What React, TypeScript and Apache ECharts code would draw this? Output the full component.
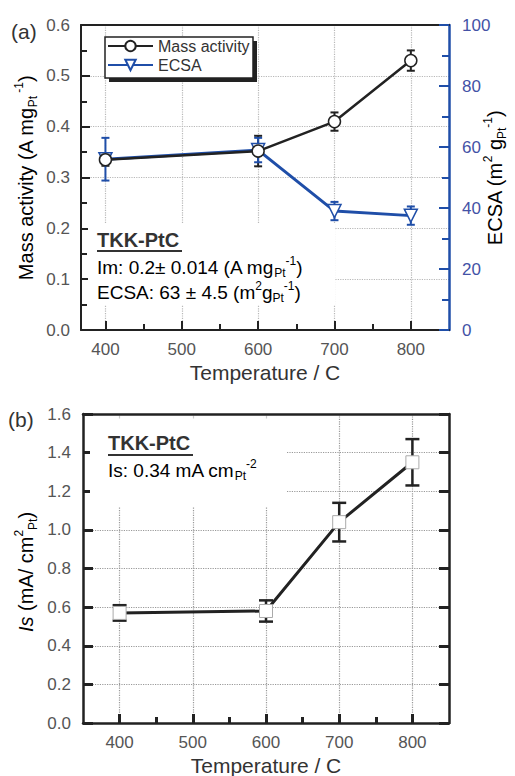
import React, { useEffect, useRef } from "react";
import * as echarts from "echarts";

const FONT = "Liberation Sans, Arial, sans-serif";
const BLUE = "#1f4ea8";
const BLUE_TEXT = "#4352a6";

// ---- data (a) ----
const temps = [400, 600, 700, 800];
const massActivity = [0.335, 0.352, 0.41, 0.53];
const massActivityErr = [0.012, 0.03, 0.018, 0.02];
const ecsa = [56, 59, 39, 37.5];
const ecsaErr = [7, 4, 3, 3];

// ---- data (b) ----
const isValues = [0.57, 0.58, 1.04, 1.35];
const isErr = [0.04, 0.055, 0.1, 0.12];

// ---- ticks ----
const xMajorTicks = [400, 500, 600, 700, 800];
const xMinorTicks = [450, 550, 650, 750];

function errorBars(
  name: string,
  xs: number[],
  ys: number[],
  errs: number[],
  color: string,
  capHalf: number,
  width: number,
  xAxisIndex: number,
  yAxisIndex: number
) {
  return {
    type: "custom",
    name,
    xAxisIndex,
    yAxisIndex,
    silent: true,
    z: 1,
    encode: { x: 0, y: [1, 2] },
    data: xs.map((x, i) => [x, ys[i] - errs[i], ys[i] + errs[i]]),
    renderItem: (params: any, api: any) => {
      const x = api.value(0);
      const lo = api.coord([x, api.value(1)]);
      const hi = api.coord([x, api.value(2)]);
      const style = { stroke: color, lineWidth: width };
      return {
        type: "group",
        children: [
          { type: "line", shape: { x1: lo[0], y1: lo[1], x2: hi[0], y2: hi[1] }, style },
          { type: "line", shape: { x1: lo[0] - capHalf, y1: lo[1], x2: lo[0] + capHalf, y2: lo[1] }, style },
          { type: "line", shape: { x1: hi[0] - capHalf, y1: hi[1], x2: hi[0] + capHalf, y2: hi[1] }, style },
        ],
      };
    },
  };
}

function mainX(gridIndex: number, min: number, max: number, lineW: number, tickW: number, gridColor: string) {
  return {
    type: "value",
    gridIndex,
    min,
    max,
    position: "bottom",
    axisLine: { show: true, onZero: false, lineStyle: { color: "#222", width: lineW } },
    axisTick: { show: true, inside: true, length: 9, customValues: xMajorTicks, lineStyle: { color: "#222", width: tickW } },
    axisLabel: {
      show: true,
      customValues: xMajorTicks,
      margin: 11,
      color: "#555",
      fontSize: 17,
      fontFamily: FONT,
    },
    splitLine: { show: true, lineStyle: { color: gridColor, type: "dotted", width: 1.2 } },
  };
}

function minorX(gridIndex: number, min: number, max: number, tickW: number) {
  return {
    type: "value",
    gridIndex,
    min,
    max,
    position: "bottom",
    axisLine: { show: false },
    axisTick: { show: true, inside: true, length: 6, customValues: xMinorTicks, lineStyle: { color: "#222", width: tickW } },
    axisLabel: { show: false },
    splitLine: { show: false },
  };
}

function topX(gridIndex: number, min: number, max: number, lineW: number) {
  return {
    type: "value",
    gridIndex,
    min,
    max,
    position: "top",
    axisLine: { show: true, onZero: false, lineStyle: { color: "#222", width: lineW } },
    axisTick: { show: false },
    axisLabel: { show: false },
    splitLine: { show: false },
  };
}

const richBase = (color: string, size: number, lh: number) => ({
  a: { fontSize: size, fontFamily: FONT, color, lineHeight: lh },
  sub: { fontSize: Math.round(size * 0.62), fontFamily: FONT, color, lineHeight: 13, verticalAlign: "bottom" },
  sup: { fontSize: Math.round(size * 0.62), fontFamily: FONT, color, lineHeight: 13, verticalAlign: "top" },
  i: { fontSize: size, fontFamily: FONT, color, lineHeight: lh, fontStyle: "italic" },
});

export default function App() {
  const ref = useRef<HTMLDivElement>(null);

  useEffect(() => {
    document.body.style.margin = "0";
    if (!ref.current) return;
    const chart = echarts.init(ref.current, undefined, { renderer: "svg" });

    const option: any = {
      animation: false,
      backgroundColor: "#fff",
      grid: [
        { left: 81, top: 25, width: 368, height: 305 },
        { left: 83, top: 414, width: 366, height: 309 },
      ],
      legend: {
        data: ["Mass activity", "ECSA"],
        orient: "vertical",
        left: 107,
        top: 38,
        itemWidth: 45,
        itemHeight: 13,
        itemGap: 3,
        padding: 0,
        z: 5,
        textStyle: { fontSize: 16, fontFamily: FONT, color: "#333" },
      },
      xAxis: [
        mainX(0, 368, 850, 2, 2, "#b8b8b8"),
        minorX(0, 368, 850, 2),
        topX(0, 368, 850, 2),
        mainX(1, 350, 850, 2.5, 3, "#999"),
        minorX(1, 350, 850, 3),
        topX(1, 350, 850, 2.5),
      ],
      yAxis: [
        {
          type: "value",
          gridIndex: 0,
          min: 0,
          max: 0.6,
          interval: 0.1,
          position: "left",
          axisLine: { show: true, lineStyle: { color: "#222", width: 2 } },
          axisTick: { show: true, inside: true, length: 9, lineStyle: { color: "#222", width: 2 } },
          minorTick: { show: true, splitNumber: 2, length: 6, lineStyle: { color: "#222", width: 2 } },
          axisLabel: {
            margin: 11,
            color: "#555",
            fontSize: 17,
            fontFamily: FONT,
            formatter: (v: number) => v.toFixed(1),
          },
          splitLine: { show: true, lineStyle: { color: "#b8b8b8", type: "dotted", width: 1.2 } },
        },
        {
          type: "value",
          gridIndex: 0,
          min: 0,
          max: 100,
          interval: 20,
          position: "right",
          axisLine: { show: true, lineStyle: { color: BLUE, width: 2.5 } },
          axisTick: { show: true, inside: true, length: 10, lineStyle: { color: BLUE, width: 2 } },
          minorTick: { show: true, splitNumber: 2, length: 7, lineStyle: { color: BLUE, width: 2 } },
          axisLabel: { margin: 13, color: BLUE_TEXT, fontSize: 17, fontFamily: FONT },
          splitLine: { show: false },
        },
        {
          type: "value",
          gridIndex: 1,
          min: 0,
          max: 1.6,
          interval: 0.2,
          position: "left",
          axisLine: { show: true, lineStyle: { color: "#222", width: 2.5 } },
          axisTick: { show: true, inside: true, length: 10, lineStyle: { color: "#222", width: 3 } },
          axisLabel: {
            margin: 12,
            color: "#555",
            fontSize: 17,
            fontFamily: FONT,
            formatter: (v: number) => v.toFixed(1),
          },
          splitLine: { show: true, lineStyle: { color: "#999", type: "dotted", width: 1.2 } },
        },
        {
          type: "value",
          gridIndex: 1,
          min: 0,
          max: 1.6,
          interval: 0.2,
          position: "right",
          axisLine: { show: true, lineStyle: { color: "#222", width: 2.5 } },
          axisTick: { show: true, inside: true, length: 10, lineStyle: { color: "#222", width: 3 } },
          axisLabel: { show: false },
          splitLine: { show: false },
        },
      ],
      series: [
        errorBars("maErr", temps, massActivity, massActivityErr, "#222", 4, 2, 0, 0),
        errorBars("ecsaErr", temps, ecsa, ecsaErr, BLUE, 4, 2, 0, 1),
        {
          type: "line",
          name: "Mass activity",
          xAxisIndex: 0,
          yAxisIndex: 0,
          data: temps.map((t, i) => [t, massActivity[i]]),
          symbol: "circle",
          symbolSize: 12,
          z: 3,
          lineStyle: { color: "#222", width: 2.5 },
          itemStyle: { color: "#fff", borderColor: "#222", borderWidth: 1.5 },
        },
        {
          type: "line",
          name: "ECSA",
          xAxisIndex: 0,
          yAxisIndex: 1,
          data: temps.map((t, i) => [t, ecsa[i]]),
          symbol: "triangle",
          symbolRotate: 180,
          symbolSize: 13,
          z: 2,
          lineStyle: { color: BLUE, width: 3 },
          itemStyle: { color: "#fff", borderColor: BLUE, borderWidth: 1.5 },
        },
        errorBars("isErr", temps, isValues, isErr, "#222", 7, 2.5, 3, 2),
        {
          type: "line",
          name: "Is",
          xAxisIndex: 3,
          yAxisIndex: 2,
          data: temps.map((t, i) => [t, isValues[i]]),
          symbol: "rect",
          symbolSize: 13,
          z: 3,
          lineStyle: { color: "#222", width: 3 },
          itemStyle: { color: "#fff", borderColor: "#aaa", borderWidth: 1 },
        },
      ],
      graphic: [
        // legend box with shadow
        { type: "rect", z: 1, shape: { x: 109, y: 41, width: 148, height: 41 }, style: { fill: "#222" } },
        { type: "rect", z: 1, shape: { x: 105, y: 37, width: 148, height: 41 }, style: { fill: "#fff", stroke: "#222", lineWidth: 1.5 } },
        // white background behind annotation texts
        { type: "rect", z: 1, shape: { x: 88, y: 223, width: 247, height: 82 }, style: { fill: "#fff" } },
        { type: "rect", z: 1, shape: { x: 90, y: 419, width: 196, height: 88 }, style: { fill: "#fff" } },
        // panel labels
        { type: "text", z: 5, x: 11, y: 31, style: { text: "(a)", fontSize: 21, fontFamily: FONT, fill: "#333", verticalAlign: "middle" } },
        { type: "text", z: 5, x: 8, y: 419, style: { text: "(b)", fontSize: 21, fontFamily: FONT, fill: "#333", verticalAlign: "middle" } },
        // (a) annotation
        { type: "text", z: 5, x: 97, y: 240, style: { text: "TKK-PtC", fontSize: 20, fontWeight: "bold", fontFamily: FONT, fill: "#333", verticalAlign: "middle" } },
        { type: "line", z: 5, shape: { x1: 97, y1: 251, x2: 182, y2: 251 }, style: { stroke: "#333", lineWidth: 2 } },
        {
          type: "text",
          z: 5,
          x: 97,
          y: 267,
          style: {
            text: "{a|Im: 0.2± 0.014 (A mg}{sub|Pt}{sup|-1}{a|)}",
            rich: richBase("#333", 19, 24),
            verticalAlign: "middle",
          },
        },
        {
          type: "text",
          z: 5,
          x: 97,
          y: 292,
          style: {
            text: "{a|ECSA: 63 ± 4.5 (m}{sup|2}{a|g}{sub|Pt}{sup|-1}{a|)}",
            rich: richBase("#333", 19, 24),
            verticalAlign: "middle",
          },
        },
        // (b) annotation
        { type: "text", z: 5, x: 108, y: 443, style: { text: "TKK-PtC", fontSize: 20, fontWeight: "bold", fontFamily: FONT, fill: "#333", verticalAlign: "middle" } },
        { type: "line", z: 5, shape: { x1: 108, y1: 455, x2: 193, y2: 455 }, style: { stroke: "#333", lineWidth: 2 } },
        {
          type: "text",
          z: 5,
          x: 108,
          y: 470,
          style: {
            text: "{a|Is: 0.34 mA cm}{sub|Pt}{sup|-2}",
            rich: richBase("#333", 19, 24),
            verticalAlign: "middle",
          },
        },
        // axis titles
        {
          type: "text",
          z: 5,
          x: 26,
          y: 178,
          rotation: Math.PI / 2,
          style: {
            text: "{a|Mass activity (A mg}{sub|Pt}{sup| -1}{a|)}",
            rich: richBase("#333", 20, 26),
            align: "center",
            verticalAlign: "middle",
          },
        },
        {
          type: "text",
          z: 5,
          x: 495,
          y: 178,
          rotation: Math.PI / 2,
          style: {
            text: "{a|ECSA (m}{sup|2}{a| g}{sub|Pt}{sup|-1}{a|)}",
            rich: richBase(BLUE_TEXT, 20, 26),
            align: "center",
            verticalAlign: "middle",
          },
        },
        {
          type: "text",
          z: 5,
          x: 265,
          y: 372,
          style: { text: "Temperature / C", fontSize: 21, fontFamily: FONT, fill: "#333", align: "center", verticalAlign: "middle" },
        },
        {
          type: "text",
          z: 5,
          x: 26,
          y: 572,
          rotation: Math.PI / 2,
          style: {
            text: "{i|Is}{a| (mA/ cm}{sup|2}{sub|Pt}{a|)}",
            rich: richBase("#333", 20, 26),
            align: "center",
            verticalAlign: "middle",
          },
        },
        {
          type: "text",
          z: 5,
          x: 266,
          y: 765,
          style: { text: "Temperature / C", fontSize: 21, fontFamily: FONT, fill: "#333", align: "center", verticalAlign: "middle" },
        },
      ],
    };

    chart.setOption(option);
    return () => chart.dispose();
  }, []);

  return <div ref={ref} style={{ width: 515, height: 776 }} />;
}
